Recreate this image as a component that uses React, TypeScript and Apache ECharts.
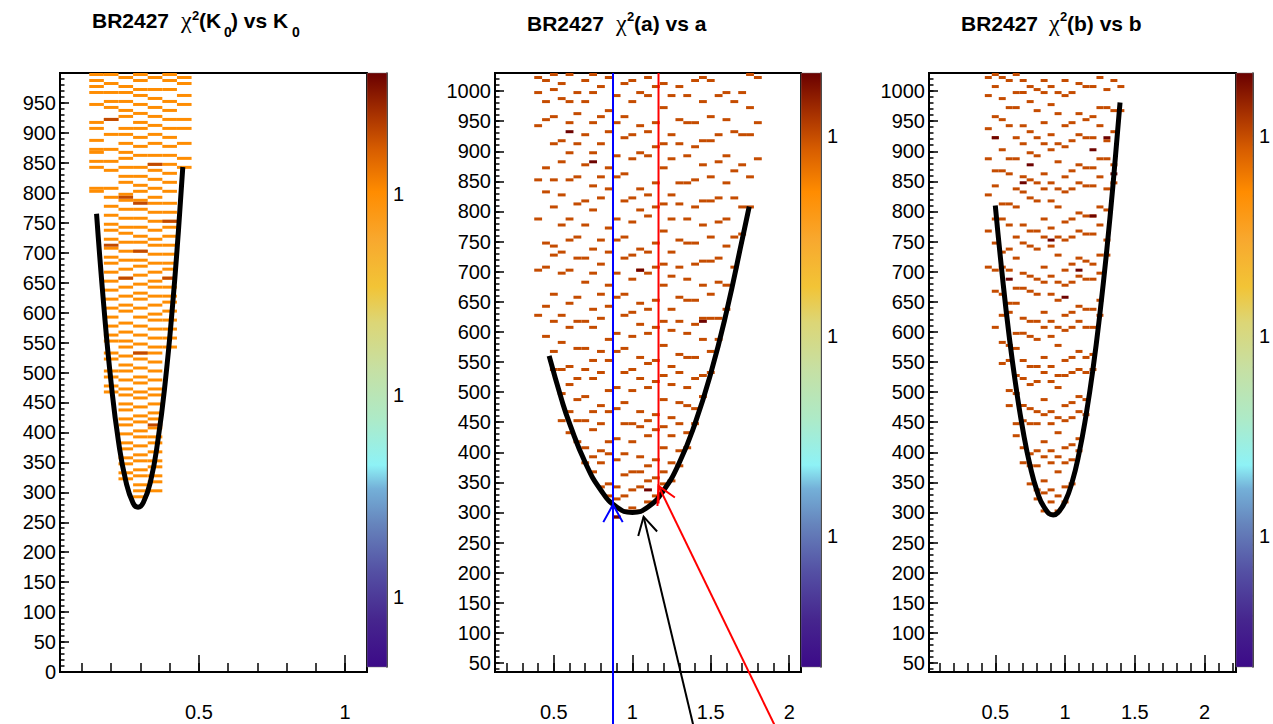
import React, { useEffect, useRef } from "react";
import * as echarts from "echarts";

// ---------------- data: panel 1, chi2(K0) vs K0 ----------------
const k0Columns = [0.15, 0.2, 0.25, 0.3, 0.35, 0.4, 0.45];
const k0Hits = [
  [800, 805, 840, 850, 865, 870, 885, 905, 915, 945, 965, 975, 985, 995],
  [465, 475, 490, 500, 520, 530, 550, 560, 575, 590, 605, 620, 635, 650, 665, 680, 690, 705, 720, 735, 745, 760, 775, 790, 805, 835, 850, 870, 895, 920, 940, 950, 965, 980, 995],
  [320, 330, 345, 355, 370, 380, 395, 410, 420, 435, 445, 460, 470, 485, 500, 510, 525, 540, 550, 565, 580, 600, 610, 625, 640, 655, 670, 685, 700, 715, 730, 740, 755, 770, 785, 795, 815, 825, 840, 855, 865, 880, 895, 905, 925, 935, 950, 965, 975, 990],
  [290, 300, 310, 325, 335, 350, 360, 375, 390, 400, 415, 425, 440, 455, 465, 480, 490, 505, 520, 530, 545, 560, 575, 590, 605, 620, 630, 645, 660, 675, 685, 700, 715, 725, 740, 755, 770, 785, 800, 810, 825, 840, 860, 875, 890, 905, 915, 930, 945, 960, 970, 985, 995],
  [300, 315, 325, 340, 350, 365, 380, 390, 405, 420, 430, 445, 460, 470, 485, 500, 515, 530, 540, 555, 570, 585, 595, 610, 625, 640, 650, 665, 680, 695, 710, 720, 735, 750, 765, 780, 790, 805, 820, 835, 845, 860, 880, 895, 910, 925, 940, 955, 970, 990],
  [540, 555, 570, 585, 600, 615, 625, 640, 655, 670, 680, 695, 710, 725, 740, 750, 765, 780, 800, 815, 830, 845, 860, 875, 890, 905, 920, 935, 950, 970, 985, 995],
  [840, 855, 880, 905, 920, 945, 960, 980, 990],
];
const k0Doubles = [
  [0.2, 920], [0.25, 790], [0.2, 710], [0.3, 780], [0.35, 845], [0.4, 750],
  [0.25, 655], [0.4, 655], [0.3, 700], [0.3, 530], [0.35, 410],
];
const k0Curve = [
  [0.15, 765], [0.175, 610], [0.2, 482], [0.225, 385], [0.25, 319], [0.275, 282],
  [0.292, 275], [0.31, 283], [0.335, 319], [0.36, 387], [0.385, 484], [0.41, 612],
  [0.43, 736], [0.445, 843],
];

// ---------------- data: panel 2, chi2(a) vs a ----------------
const aColumns = [
  0.4, 0.45, 0.5, 0.55, 0.6, 0.65, 0.7, 0.75, 0.8, 0.85, 0.9, 0.95, 1.0, 1.05, 1.1,
  1.15, 1.2, 1.25, 1.3, 1.35, 1.4, 1.45, 1.5, 1.55, 1.6, 1.65, 1.7, 1.75, 1.8,
];
const aHits = [
  [625, 700, 785, 850, 940, 995, 1020],
  [590, 640, 705, 745, 830, 870, 950, 980, 1015],
  [535, 565, 615, 660, 725, 740, 805, 850, 910, 955, 1000, 1025],
  [450, 495, 535, 580, 625, 695, 730, 775, 825, 880, 915, 985, 1010],
  [430, 465, 510, 540, 605, 645, 700, 750, 785, 850, 895, 945, 980, 1025],
  [415, 450, 485, 520, 570, 615, 655, 720, 755, 810, 855, 910, 960, 995],
  [380, 405, 450, 490, 535, 570, 615, 680, 720, 775, 815, 875, 925, 980, 1015],
  [365, 390, 435, 465, 520, 550, 605, 635, 695, 735, 800, 840, 895, 945, 995, 1025],
  [340, 380, 400, 445, 475, 530, 565, 620, 660, 710, 750, 820, 855, 910, 955, 1005],
  [325, 345, 395, 415, 465, 500, 550, 585, 640, 675, 730, 770, 835, 870, 930, 965, 1020],
  [290, 320, 340, 385, 420, 470, 505, 565, 595, 655, 695, 750, 785, 855, 890, 945, 990],
  [300, 325, 360, 395, 445, 480, 530, 570, 625, 660, 720, 755, 815, 860, 920, 955, 1010],
  [305, 335, 365, 415, 445, 500, 535, 590, 630, 685, 725, 780, 820, 885, 925, 980, 1015],
  [300, 340, 365, 390, 440, 465, 520, 555, 610, 645, 700, 735, 800, 835, 895, 940, 995],
  [315, 350, 375, 425, 450, 505, 545, 595, 635, 695, 730, 790, 825, 890, 930, 990, 1020],
  [325, 355, 385, 435, 460, 515, 550, 605, 650, 705, 745, 805, 845, 905, 945, 1005],
  [345, 365, 405, 440, 485, 525, 575, 615, 675, 710, 765, 810, 870, 910, 970, 1010],
  [350, 380, 425, 455, 510, 540, 600, 635, 690, 730, 785, 825, 885, 925, 990],
  [375, 400, 445, 480, 530, 560, 615, 655, 705, 750, 810, 845, 910, 950, 1005],
  [405, 430, 475, 505, 555, 595, 650, 685, 745, 785, 845, 890, 945, 990],
  [445, 470, 520, 555, 610, 650, 710, 745, 805, 850, 905, 945, 1015],
  [490, 525, 585, 620, 675, 715, 775, 815, 875, 915, 980, 1020],
  [530, 565, 620, 660, 715, 755, 815, 855, 915, 955, 1015],
  [585, 620, 680, 720, 780, 820, 880, 925, 990],
  [635, 675, 740, 785, 845, 890, 950, 995],
  [705, 755, 820, 865, 930, 980],
  [760, 805, 875, 925, 995],
  [805, 855, 925, 970, 1025],
  [885, 945, 1020],
];
const aDoubles = [[0.9, 290], [1.1, 335], [1.05, 700], [0.75, 880], [1.45, 615], [0.6, 930]];
const aCurve = [
  [0.47, 560], [0.55, 487], [0.6, 448], [0.7, 383], [0.8, 337], [0.9, 309], [1.0, 300],
  [1.1, 309], [1.2, 337], [1.3, 383], [1.4, 448], [1.5, 531], [1.6, 633], [1.7, 753], [1.745, 808],
];
// annotation lines and arrows (x1, y1, x2, y2) in panel-2 data units
const aMarkerLines = [[0.877, -55, 0.877, 1030], [1.167, 1030, 1.167, 315]];
const aArrows = [[0.877, -55, 0.877, 313], [1.91, -55, 1.167, 344], [1.39, -55, 1.072, 293]];

// ---------------- data: panel 3, chi2(b) vs b ----------------
const bColumns = [
  0.45, 0.5, 0.55, 0.6, 0.65, 0.7, 0.75, 0.8, 0.85, 0.9, 0.95, 1.0, 1.05, 1.1, 1.15, 1.2, 1.25, 1.3, 1.35, 1.4,
];
const bHits = [
  [705, 765, 825, 885, 935, 990, 1020],
  [605, 665, 700, 745, 785, 840, 865, 920, 955, 1005, 1025],
  [545, 580, 625, 660, 705, 730, 785, 810, 865, 900, 950, 985, 1020],
  [475, 500, 550, 575, 630, 645, 700, 735, 775, 810, 860, 885, 940, 970, 1015],
  [425, 445, 495, 525, 570, 595, 645, 670, 720, 755, 805, 835, 885, 920, 970, 995, 1025],
  [380, 405, 450, 475, 520, 550, 595, 620, 670, 695, 745, 775, 830, 855, 910, 940, 995, 1015],
  [345, 375, 395, 445, 470, 510, 540, 590, 615, 665, 690, 740, 765, 820, 850, 895, 930, 980, 1005],
  [320, 335, 375, 400, 445, 465, 515, 540, 585, 615, 660, 685, 735, 765, 815, 845, 890, 920, 965, 1000],
  [300, 330, 350, 390, 415, 460, 485, 530, 555, 605, 630, 680, 705, 755, 785, 835, 860, 910, 945, 995, 1015],
  [295, 315, 335, 380, 400, 445, 465, 515, 540, 590, 615, 660, 690, 740, 770, 815, 845, 900, 925, 975, 1005],
  [300, 325, 365, 390, 430, 455, 505, 525, 575, 605, 650, 680, 725, 755, 805, 835, 880, 910, 960, 995],
  [315, 340, 380, 405, 450, 475, 525, 550, 600, 625, 675, 700, 750, 780, 830, 855, 905, 940, 990, 1015],
  [345, 385, 410, 455, 480, 530, 555, 605, 630, 680, 710, 755, 785, 835, 865, 915, 945, 995],
  [400, 420, 465, 490, 535, 565, 615, 640, 690, 720, 765, 795, 845, 875, 925, 960, 1010],
  [460, 485, 530, 555, 605, 635, 685, 715, 760, 790, 840, 870, 920, 950, 1005],
  [535, 560, 605, 635, 685, 710, 760, 790, 840, 870, 920, 955, 1005],
  [625, 650, 695, 725, 775, 805, 855, 885, 940, 970, 1020],
  [725, 750, 800, 835, 885, 915, 970, 1000],
  [845, 875, 930, 965, 1015],
  [965, 1005],
];
const bDoubles = [
  [0.5, 920], [1.2, 900], [0.75, 875], [0.7, 845], [1.35, 860], [1.2, 790],
  [0.9, 750], [0.6, 685], [1.1, 700], [1.0, 655], [1.3, 920],
];
const bCurve = [
  [0.5, 810], [0.55, 694], [0.6, 592], [0.65, 506], [0.7, 434], [0.75, 377], [0.8, 335],
  [0.85, 309], [0.915, 296], [0.95, 300], [1.0, 318], [1.05, 350], [1.1, 398], [1.15, 461],
  [1.2, 538], [1.25, 631], [1.3, 738], [1.35, 861], [1.394, 981],
];

// colour-bar tick labels (truncated powers of ten, as in the original)
const colorDecades = [-2, -1, 0];
const colorDecadeLabel = "1";

// ---------------- styles / layout ----------------
const FONT = '"Liberation Sans", Arial, Helvetica, sans-serif';
const BIN_HALF_W = 0.025;
const BIN_H = 5;
const PALETTE: [number, string][] = [
  [0.0, "#3c0a88"], [0.08, "#46268e"], [0.16, "#5450a4"], [0.24, "#6684bc"], [0.3, "#74b0d8"],
  [0.34, "#8ef2f6"], [0.42, "#aeeac6"], [0.5, "#c6e0a4"], [0.58, "#dcd676"], [0.64, "#f2c436"],
  [0.72, "#f8a82e"], [0.8, "#ff8c00"], [0.87, "#d85e00"], [0.93, "#a83200"], [1.0, "#6a0000"],
];

function hexToRgb(h: string) {
  const n = parseInt(h.slice(1), 16);
  return [(n >> 16) & 255, (n >> 8) & 255, n & 255];
}
function paletteAt(f: number) {
  const t = Math.max(0, Math.min(1, f));
  for (let i = 1; i < PALETTE.length; i++) {
    if (t <= PALETTE[i][0]) {
      const [f0, c0] = PALETTE[i - 1];
      const [f1, c1] = PALETTE[i];
      const u = (t - f0) / (f1 - f0);
      const a = hexToRgb(c0), b = hexToRgb(c1);
      const r = a.map((v, k) => Math.round(v + (b[k] - v) * u));
      return `rgb(${r[0]},${r[1]},${r[2]})`;
    }
  }
  return PALETTE[PALETTE.length - 1][1];
}

function steps(from: number, to: number, step: number) {
  const out: number[] = [];
  const n = Math.round((to - from) / step);
  for (let i = 0; i <= n; i++) out.push(+(from + i * step).toFixed(4));
  return out;
}

const panels = [
  {
    left: 60, width: 307, cbLeft: 367,
    xMin: 0.025, xMax: 1.075, yMin: 0, yMax: 1000,
    xMajor: [0.5, 1], xMinor: steps(0.1, 1.0, 0.1),
    yMajor: steps(0, 1000, 50), yLabels: steps(0, 950, 50), yMinor: steps(0, 1000, 10),
    cols: k0Columns, hits: k0Hits, doubles: k0Doubles, curve: k0Curve,
    logMin: -2.35, logMax: 0.6,
  },
  {
    left: 495, width: 306, cbLeft: 801,
    xMin: 0.125, xMax: 2.075, yMin: 35, yMax: 1030,
    xMajor: [0.5, 1, 1.5, 2], xMinor: steps(0.2, 2.0, 0.1),
    yMajor: steps(50, 1000, 50), yLabels: steps(50, 1000, 50), yMinor: steps(40, 1030, 10),
    cols: aColumns, hits: aHits, doubles: aDoubles, curve: aCurve,
    logMin: -2.655, logMax: 0.315,
  },
  {
    left: 929, width: 307, cbLeft: 1236,
    xMin: 0.025, xMax: 2.225, yMin: 35, yMax: 1030,
    xMajor: [0.5, 1, 1.5, 2], xMinor: steps(0.1, 2.2, 0.1),
    yMajor: steps(50, 1000, 50), yLabels: steps(50, 1000, 50), yMinor: steps(40, 1030, 10),
    cols: bColumns, hits: bHits, doubles: bDoubles, curve: bCurve,
    logMin: -2.655, logMax: 0.315,
  },
];

const titles = [
  {
    y: 20, sup: 15, sub: 32,
    parts: [["b", "BR2427", 92], ["g", "χ", 181], ["p", "2", 192], ["b", "(K", 199], ["s", "0", 224], ["b", ") vs K", 231], ["s", "0", 292]],
  },
  { y: 23, sup: 16, sub: 34, parts: [["b", "BR2427", 527], ["g", "χ", 616], ["p", "2", 627], ["b", "(a) vs a", 634]] },
  { y: 23, sup: 16, sub: 34, parts: [["b", "BR2427", 961], ["g", "χ", 1049], ["p", "2", 1060], ["b", "(b) vs b", 1067]] },
];

function buildOption() {
  const grid: any[] = [];
  const xAxis: any[] = [];
  const yAxis: any[] = [];
  const series: any[] = [];
  const graphic: any[] = [];
  const tickStyle = { color: "#000", width: 1.5 };
  const labelStyle = { fontSize: 20, fontFamily: FONT, color: "#000" };
  const hidden = { show: false };

  panels.forEach((p, pi) => {
    grid.push({ left: p.left, top: 73, width: p.width, height: 599, show: true, borderColor: "#000", borderWidth: 2, backgroundColor: "transparent" });
    const gi = grid.length - 1;
    const xi = xAxis.length;
    xAxis.push({
      type: "value", gridIndex: gi, min: p.xMin, max: p.xMax, position: "bottom",
      axisLine: { show: false, onZero: false }, splitLine: hidden,
      axisTick: { show: true, inside: true, length: 17, customValues: p.xMajor, lineStyle: tickStyle },
      axisLabel: { show: true, customValues: p.xMajor, margin: 30, ...labelStyle, formatter: (v: number) => String(v) },
    });
    xAxis.push({
      type: "value", gridIndex: gi, min: p.xMin, max: p.xMax, position: "bottom",
      axisLine: { show: false, onZero: false }, splitLine: hidden,
      axisTick: { show: true, inside: true, length: 9, customValues: p.xMinor, lineStyle: tickStyle },
      axisLabel: hidden,
    });
    const yi = yAxis.length;
    yAxis.push({
      type: "value", gridIndex: gi, min: p.yMin, max: p.yMax, position: "left",
      axisLine: { show: false, onZero: false }, splitLine: hidden,
      axisTick: { show: true, inside: true, length: 9, customValues: p.yMajor, lineStyle: tickStyle },
      axisLabel: { show: true, customValues: p.yLabels, margin: 4, ...labelStyle, formatter: (v: number) => String(v) },
    });
    yAxis.push({
      type: "value", gridIndex: gi, min: p.yMin, max: p.yMax, position: "left",
      axisLine: { show: false, onZero: false }, splitLine: hidden,
      axisTick: { show: true, inside: true, length: 4.5, customValues: p.yMinor, lineStyle: tickStyle },
      axisLabel: hidden,
    });

    // histogram cells
    const cells: number[][] = [];
    p.cols.forEach((c, ci) => p.hits[ci].forEach((y) => cells.push([c, y, 1])));
    p.doubles.forEach(([c, y]) => cells.push([c, y, 2]));
    const lo = p.logMin, hi = p.logMax;
    series.push({
      type: "custom", coordinateSystem: "cartesian2d", xAxisIndex: xi, yAxisIndex: yi,
      clip: true, silent: true, z: 1, data: cells,
      renderItem: (_params: any, api: any) => {
        const xc = api.value(0), y0 = api.value(1), v = api.value(2);
        const a = api.coord([xc - BIN_HALF_W, y0 + BIN_H]);
        const b = api.coord([xc + BIN_HALF_W, y0]);
        const f = (Math.log10(v) - lo) / (hi - lo);
        return { type: "rect", shape: { x: a[0], y: a[1], width: b[0] - a[0], height: b[1] - a[1] }, style: { fill: paletteAt(f) } };
      },
    });
    // fitted curve
    series.push({
      type: "line", xAxisIndex: xi, yAxisIndex: yi, data: p.curve, smooth: true,
      symbol: "none", silent: true, z: 3, lineStyle: { color: "#000", width: 5, cap: "butt" },
    });

    // colour bar
    grid.push({ left: p.cbLeft, top: 73, width: 20, height: 594, show: false });
    const cg = grid.length - 1;
    const cxi = xAxis.length;
    xAxis.push({ type: "value", gridIndex: cg, min: 0, max: 1, show: false });
    const cyi = yAxis.length;
    yAxis.push({
      type: "value", gridIndex: cg, min: lo, max: hi, position: "right",
      axisLine: { show: true, onZero: false, lineStyle: tickStyle }, splitLine: hidden,
      axisTick: { show: true, inside: true, length: 8, customValues: colorDecades, lineStyle: tickStyle },
      axisLabel: { show: true, customValues: colorDecades, margin: 6, ...labelStyle, formatter: () => colorDecadeLabel },
    });
    const minor: number[] = [];
    for (let d = -3; d <= 0; d++) for (let k = 2; k <= 9; k++) {
      const v = d + Math.log10(k);
      if (v > lo && v < hi) minor.push(v);
    }
    yAxis.push({
      type: "value", gridIndex: cg, min: lo, max: hi, position: "right",
      axisLine: { show: false, onZero: false }, splitLine: hidden,
      axisTick: { show: true, inside: true, length: 4, customValues: minor, lineStyle: tickStyle },
      axisLabel: hidden,
    });
    const stops = PALETTE.map(([f, c]) => ({ offset: 1 - f, color: c })).reverse();
    series.push({
      type: "custom", coordinateSystem: "cartesian2d", xAxisIndex: cxi, yAxisIndex: cyi,
      silent: true, z: 1, data: [[0.5, lo]],
      renderItem: (_params: any, api: any) => {
        const a = api.coord([0, hi]);
        const b = api.coord([1, lo]);
        return {
          type: "rect", shape: { x: a[0], y: a[1], width: b[0] - a[0], height: b[1] - a[1] },
          style: { fill: new echarts.graphic.LinearGradient(0, 0, 0, 1, stops), stroke: "#777", lineWidth: 0.5 },
        };
      },
    });

    // annotations on the a-panel
    if (pi === 1) {
      const lineColors = ["#0000ff", "#ff0000"];
      const arrowColors = ["#0000ff", "#ff0000", "#000000"];
      series.push({
        type: "custom", coordinateSystem: "cartesian2d", xAxisIndex: xi, yAxisIndex: yi,
        clip: false, silent: true, z: 5, data: aMarkerLines,
        renderItem: (params: any, api: any) => {
          const s = api.coord([api.value(0), api.value(1)]);
          const e = api.coord([api.value(2), api.value(3)]);
          return { type: "line", shape: { x1: s[0], y1: s[1], x2: e[0], y2: e[1] }, style: { stroke: lineColors[params.dataIndex], lineWidth: 2 } };
        },
      });
      series.push({
        type: "custom", coordinateSystem: "cartesian2d", xAxisIndex: xi, yAxisIndex: yi,
        clip: false, silent: true, z: 6, data: aArrows,
        renderItem: (params: any, api: any) => {
          const s = api.coord([api.value(0), api.value(1)]);
          const e = api.coord([api.value(2), api.value(3)]);
          const dx = s[0] - e[0], dy = s[1] - e[1];
          const L = Math.hypot(dx, dy) || 1;
          const ux = dx / L, uy = dy / L;
          const ang = (29 * Math.PI) / 180, len = 20;
          const b1 = [e[0] + len * (ux * Math.cos(ang) - uy * Math.sin(ang)), e[1] + len * (ux * Math.sin(ang) + uy * Math.cos(ang))];
          const b2 = [e[0] + len * (ux * Math.cos(-ang) - uy * Math.sin(-ang)), e[1] + len * (ux * Math.sin(-ang) + uy * Math.cos(-ang))];
          const col = arrowColors[params.dataIndex];
          return {
            type: "group",
            children: [
              { type: "line", shape: { x1: s[0], y1: s[1], x2: e[0], y2: e[1] }, style: { stroke: col, lineWidth: 2 } },
              { type: "polyline", shape: { points: [b1, e, b2] }, style: { stroke: col, lineWidth: 2, fill: "none" } },
            ],
          };
        },
      });
    }
  });

  titles.forEach((t) => {
    t.parts.forEach(([kind, text, x]: any) => {
      const style: any = { text, fill: "#000", align: "left", verticalAlign: "middle" };
      let y = t.y;
      if (kind === "b") { style.fontFamily = FONT; style.fontWeight = "bold"; style.fontSize = 21; }
      else if (kind === "g") { style.fontFamily = '"Liberation Serif", "DejaVu Serif", serif'; style.fontSize = 24; }
      else if (kind === "p") { style.fontFamily = FONT; style.fontWeight = "bold"; style.fontSize = 13; y = t.sup; }
      else { style.fontFamily = FONT; style.fontWeight = "bold"; style.fontSize = 14; y = t.sub; }
      graphic.push({ type: "text", x, y, style, silent: true });
    });
  });

  return { animation: false, backgroundColor: "#fff", grid, xAxis, yAxis, series, graphic };
}

export default function App() {
  const ref = useRef<HTMLDivElement>(null);
  useEffect(() => {
    if (!ref.current) return;
    const chart = echarts.init(ref.current, null, { renderer: "svg" });
    chart.setOption(buildOption() as any);
    return () => chart.dispose();
  }, []);
  return <div ref={ref} style={{ position: "fixed", left: 0, top: 0, width: 1273, height: 724, background: "#fff" }} />;
}
